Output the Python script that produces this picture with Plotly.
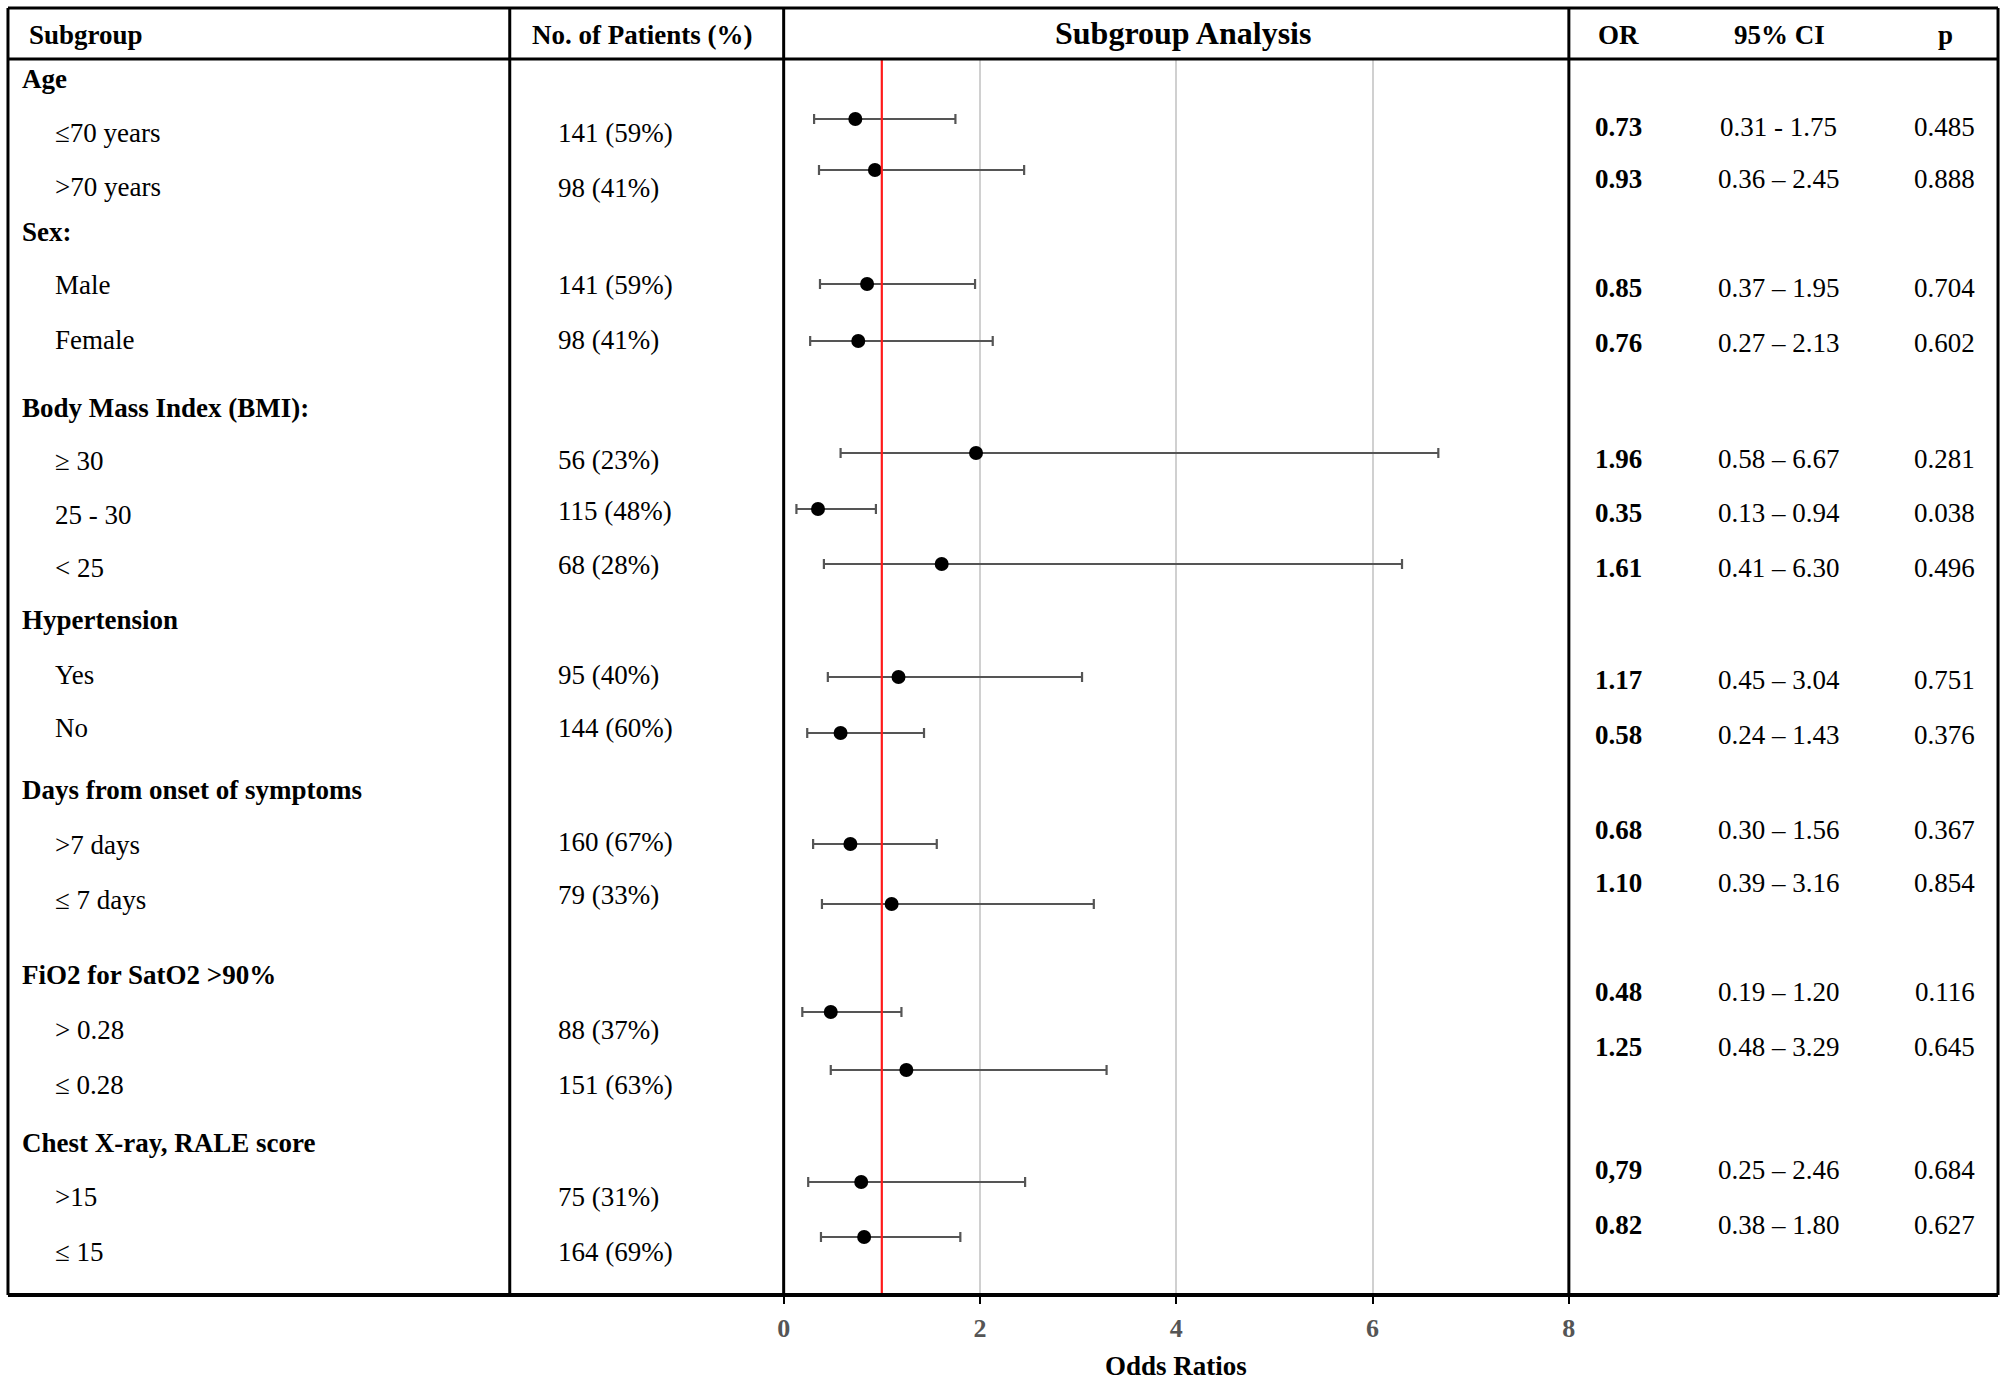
import plotly.graph_objects as go

# ---------------- data ----------------
group_labels = ["Age", "Sex:", "Body Mass Index (BMI):", "Hypertension",
                "Days from onset of symptoms", "FiO2 for SatO2 >90%",
                "Chest X-ray, RALE score"]
sub_labels = ["≤70 years", ">70 years", "Male", "Female", "≥ 30", "25 - 30", "< 25",
              "Yes", "No", ">7 days", "≤ 7 days", "> 0.28", "≤ 0.28", ">15", "≤ 15"]
n_patients = ["141 (59%)", "98 (41%)", "141 (59%)", "98 (41%)", "56 (23%)",
              "115 (48%)", "68 (28%)", "95 (40%)", "144 (60%)", "160 (67%)",
              "79 (33%)", "88 (37%)", "151 (63%)", "75 (31%)", "164 (69%)"]
or_vals = [0.73, 0.93, 0.85, 0.76, 1.96, 0.35, 1.61, 1.17, 0.58, 0.68, 1.10,
           0.48, 1.25, 0.79, 0.82]
ci_low = [0.31, 0.36, 0.37, 0.27, 0.58, 0.13, 0.41, 0.45, 0.24, 0.30, 0.39,
          0.19, 0.48, 0.25, 0.38]
ci_high = [1.75, 2.45, 1.95, 2.13, 6.67, 0.94, 6.30, 3.04, 1.43, 1.56, 3.16,
           1.20, 3.29, 2.46, 1.80]
or_text = ["0.73", "0.93", "0.85", "0.76", "1.96", "0.35", "1.61", "1.17", "0.58",
           "0.68", "1.10", "0.48", "1.25", "0,79", "0.82"]
ci_text = ["0.31 - 1.75", "0.36 – 2.45", "0.37 – 1.95", "0.27 – 2.13", "0.58 – 6.67",
           "0.13 – 0.94", "0.41 – 6.30", "0.45 – 3.04", "0.24 – 1.43", "0.30 – 1.56",
           "0.39 – 3.16", "0.19 – 1.20", "0.48 – 3.29", "0.25 – 2.46", "0.38 – 1.80"]
p_text = ["0.485", "0.888", "0.704", "0.602", "0.281", "0.038", "0.496", "0.751",
          "0.376", "0.367", "0.854", "0.116", "0.645", "0.684", "0.627"]
x_ticks = [0, 2, 4, 6, 8]

# ---------------- layout positions (pixel rows / columns) ----------------
W, H = 2006, 1388
HSCALE = 0.992          # small horizontal correction observed in the page photo

group_y = [79, 232, 408, 620, 790, 975, 1143]
label_y = [133, 187, 285, 340, 461, 515, 568, 675, 728, 845, 900, 1030, 1085, 1197, 1252]
npat_y = [133, 188, 285, 340, 460, 511, 565, 675, 728, 842, 895, 1030, 1085, 1197, 1252]
marker_y = [119, 170, 284, 341, 453, 509, 564, 677, 733, 844, 904, 1012, 1070, 1182, 1237]
stat_y = [127, 179, 288, 343, 459, 513, 568, 680, 735, 830, 883, 992, 1047, 1170, 1225]

TOP, HEAD, BOT = 8, 59, 1295
LEFT, C1, C2, C3, RIGHT = 9, 510, 783.5, 1567.5, 1996


def X(px):
    c = W / 2
    return (c + (px - c) / HSCALE) / W


def Y(py):
    return 1 - py / H


FONT = "Liberation Serif"
fig = go.Figure()

fig.add_trace(go.Scatter(
    x=or_vals, y=marker_y, mode="markers",
    marker=dict(color="black", size=14),
    error_x=dict(type="data", symmetric=False,
                 array=[h - o for h, o in zip(ci_high, or_vals)],
                 arrayminus=[o - l for o, l in zip(or_vals, ci_low)],
                 color="#555555", thickness=2.2, width=5),
    showlegend=False, hoverinfo="skip",
))

ann = []


def txt(x, y, s, size=27, bold=False, xanchor="left", xref="paper", yref="paper", color="black"):
    ann.append(dict(x=x, y=y, xref=xref, yref=yref, text=s, showarrow=False,
                    xanchor=xanchor, yanchor="middle",
                    font=dict(family=FONT, size=size, color=color,
                              weight="bold" if bold else "normal")))


# headers
txt(X(28), Y(35), "Subgroup", bold=True)
txt(X(642), Y(35), "No. of Patients (%)", bold=True, xanchor="center")
txt(X(1182), Y(33), "Subgroup Analysis", size=32, bold=True, xanchor="center")
txt(X(1617), Y(35), "OR", bold=True, xanchor="center")
txt(X(1778), Y(35), "95% CI", bold=True, xanchor="center")
txt(X(1944), Y(35), "p", bold=True, xanchor="center")

for g, gy in zip(group_labels, group_y):
    txt(X(21), Y(gy), g, bold=True)
for i in range(len(sub_labels)):
    txt(X(54), Y(label_y[i]), sub_labels[i])
    txt(X(556), Y(npat_y[i]), n_patients[i])
    txt(X(1617), Y(stat_y[i]), or_text[i], bold=True, xanchor="center")
    txt(X(1777), Y(stat_y[i]), ci_text[i], xanchor="center")
    txt(X(1943), Y(stat_y[i]), p_text[i], xanchor="center")

txt(4, Y(1366), "Odds Ratios", bold=True, xanchor="center", xref="x")

shapes = []
# red reference line at OR = 1
shapes.append(dict(type="line", xref="x", yref="y", x0=1, x1=1, y0=HEAD, y1=BOT,
                   line=dict(color="#ff1a1a", width=2.2)))
# table lines
for yy, w in [(TOP, 3), (HEAD, 3), (BOT, 4)]:
    shapes.append(dict(type="line", xref="paper", yref="paper", x0=X(LEFT), x1=X(RIGHT),
                       y0=Y(yy), y1=Y(yy), line=dict(color="black", width=w)))
for xx in [LEFT, C1, C2, C3, RIGHT]:
    shapes.append(dict(type="line", xref="paper", yref="paper", x0=X(xx), x1=X(xx),
                       y0=Y(TOP), y1=Y(BOT), line=dict(color="black", width=3)))

fig.update_layout(
    width=W, height=H, margin=dict(l=0, r=0, t=0, b=0),
    paper_bgcolor="white", plot_bgcolor="white",
    annotations=ann, shapes=shapes,
    xaxis=dict(domain=[X(C2), X(C3)], range=[0, 8], tickvals=x_ticks,
               showgrid=True, gridcolor="#d0d0d0", gridwidth=2, zeroline=False,
               ticks="outside", ticklen=8, tickwidth=2, tickcolor="black",
               ticklabelstandoff=2, showline=False,
               tickfont=dict(family=FONT, size=26, color="#555555", weight="bold")),
    yaxis=dict(domain=[Y(BOT), Y(HEAD)], range=[BOT, HEAD], visible=False,
               showgrid=False, zeroline=False),
)

# remove the browser's default page margin so the figure sits at the window origin
page_css = ("document.body.style.margin='0';"
            "document.body.style.overflow='hidden';"
            "document.documentElement.style.overflow='hidden';")
fig.write_html("out.html", post_script=page_css, config={"displayModeBar": False})
